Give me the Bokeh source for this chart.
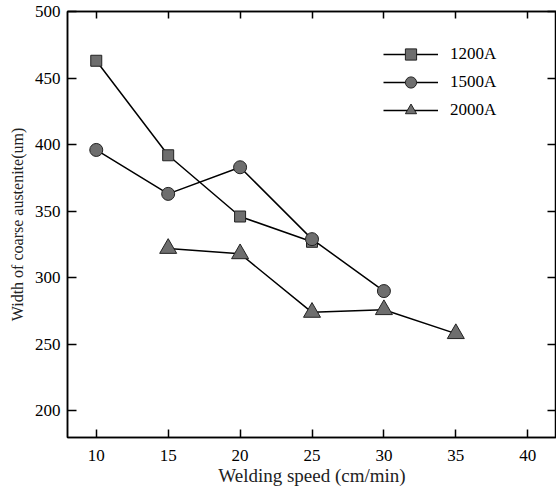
from bokeh.plotting import figure
from bokeh.models import (LinearAxis, SingleIntervalTicker, Range1d, Legend, LegendItem,
                          CustomJSTickFormatter)
from bokeh.embed import file_html
from bokeh.resources import INLINE

# data
speed_1200 = [10, 15, 20, 25]
width_1200 = [463, 392, 346, 327]
speed_1500 = [10, 15, 20, 25, 30]
width_1500 = [396, 363, 383, 329, 290]
speed_2000 = [15, 20, 25, 30, 35]
width_2000 = [322, 318, 274, 276, 258]
labels = ["1200A", "1500A", "2000A"]

FONT = "Liberation Serif"
FILL = "#6e6e6e"

p = figure(width=556, height=488, output_backend="svg", toolbar_location=None,
           x_range=Range1d(8, 42), y_range=Range1d(180, 500),
           min_border_left=67, min_border_right=0, min_border_top=11, min_border_bottom=50)
p.xgrid.visible = False
p.ygrid.visible = False
p.outline_line_color = "black"
p.outline_line_width = 1.5
p.background_fill_color = "white"
p.border_fill_color = "white"

p.xaxis.ticker = SingleIntervalTicker(interval=5)
p.yaxis.ticker = SingleIntervalTicker(interval=50)

for ax in p.xaxis + p.yaxis:
    ax.axis_line_color = "black"
    ax.axis_line_width = 1.5
    ax.major_tick_line_color = "black"
    ax.major_tick_line_width = 1.5
    ax.minor_tick_line_color = None
    ax.minor_tick_out = 0
    ax.minor_tick_in = 0
    ax.major_tick_out = 0
    ax.major_label_text_font = FONT
    ax.major_label_text_font_size = "17px"
    ax.major_label_text_color = "black"
    ax.axis_label_text_font = FONT
    ax.axis_label_text_font_style = "normal"
    ax.axis_label_text_color = "#222222"

p.xaxis.major_tick_in = 8
p.xaxis.major_label_standoff = 12
p.xaxis.axis_label = "Welding speed (cm/min)"
p.xaxis.axis_label_text_font_size = "19px"
p.xaxis.axis_label_standoff = 1
p.yaxis.major_tick_in = 9
p.yaxis.major_label_standoff = 7
p.yaxis.axis_label = "Width of coarse austenite(um)"
p.yaxis.axis_label_text_font_size = "16px"
p.yaxis.axis_label_standoff = 6

blank = CustomJSTickFormatter(code="return ''")
top = LinearAxis(ticker=SingleIntervalTicker(interval=5), formatter=blank,
                 major_label_standoff=0, major_tick_out=0, major_tick_in=7,
                 minor_tick_out=0, minor_tick_in=0,
                 minor_tick_line_color=None, axis_line_width=1.5, major_tick_line_width=1.5)
right = LinearAxis(ticker=SingleIntervalTicker(interval=50), formatter=blank,
                   major_label_standoff=0, major_tick_out=0, major_tick_in=9,
                   minor_tick_out=0, minor_tick_in=0,
                   minor_tick_line_color=None, axis_line_width=1.5, major_tick_line_width=1.5)
p.add_layout(top, "above")
p.add_layout(right, "right")

l1 = p.line(speed_1200, width_1200, line_color="black", line_width=1.5)
s1 = p.scatter(speed_1200, width_1200, marker="square", size=11, fill_color=FILL, line_color="#222222", line_width=1)
l2 = p.line(speed_1500, width_1500, line_color="black", line_width=1.5)
s2 = p.scatter(speed_1500, width_1500, marker="circle", size=13, fill_color=FILL, line_color="#222222", line_width=1)
l3 = p.line(speed_2000, width_2000, line_color="black", line_width=1.5)
s3 = p.scatter(speed_2000, width_2000, marker="triangle", size=17, fill_color=FILL, line_color="#222222", line_width=1)

legend = Legend(items=[LegendItem(label=labels[0], renderers=[l1, s1]),
                       LegendItem(label=labels[1], renderers=[l2, s2]),
                       LegendItem(label=labels[2], renderers=[l3, s3])],
                location=(316, 313), glyph_width=55, glyph_height=28, label_height=28,
                spacing=0, padding=0, margin=0, label_standoff=12,
                border_line_alpha=0, background_fill_alpha=0,
                label_text_font=FONT, label_text_font_size="17px", label_text_color="black")
p.add_layout(legend, "center")

open("out.html", "w").write(file_html(p, INLINE))
